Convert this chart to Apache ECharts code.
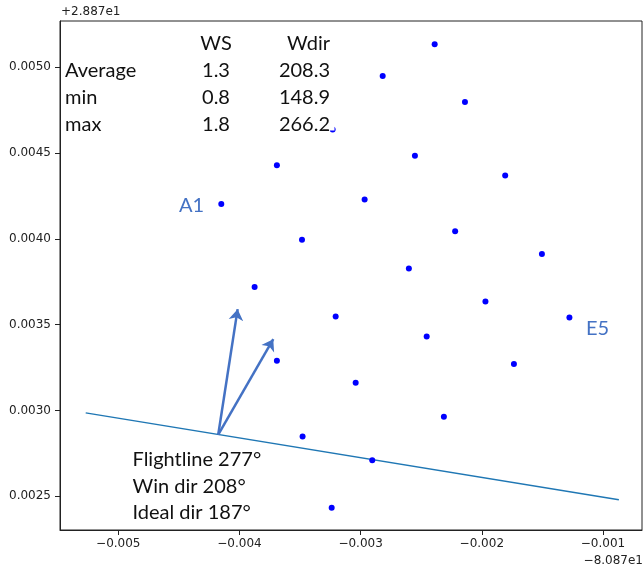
<!DOCTYPE html>
<html>
<head>
<meta charset="utf-8">
<script src="https://cdn.jsdelivr.net/npm/echarts@6/dist/echarts.min.js"></script>
<style>html,body{margin:0;padding:0;background:#fff}#c{width:643px;height:573px}</style>
</head>
<body>
<div id="c"></div>
<script>
// Offsets from +2.887e1 (lat) and -8.087e1 (lon)
const wellX = [-0.002389,-0.002818,-0.002139,-0.003691,-0.002552,-0.001807,-0.004150,-0.002967,-0.002220,-0.003484,
               -0.001504,-0.002602,-0.003875,-0.001970,-0.003206,-0.001277,-0.003691,-0.002455,-0.001735,-0.003041,
               -0.002313,-0.003479,-0.002904,-0.003239,-0.003231];
const wellY = [0.005133,0.004947,0.004797,0.004428,0.004484,0.004368,0.004203,0.004229,0.004043,0.003994,
               0.003911,0.003827,0.003719,0.003635,0.003547,0.003541,0.003289,0.003431,0.003271,0.003161,
               0.002964,0.002848,0.002710,0.002434,0.004636];
const flightX = [-0.005269, -0.000869];
const flightY = [0.002986, 0.002480];
const arrowBase = [-0.004175, 0.002860];
const arrowTipsX = [-0.004015, -0.003721];
const arrowTipsY = [0.003590, 0.003415];
const xTicks = [-0.005,-0.004,-0.003,-0.002,-0.001];
const xTickLabels = ['\u22120.005','\u22120.004','\u22120.003','\u22120.002','\u22120.001'];
const yTicks = [0.0025,0.0030,0.0035,0.0040,0.0045,0.0050];
const yTickLabels = ['0.0025','0.0030','0.0035','0.0040','0.0045','0.0050'];
const tableHeader = ['WS','Wdir'];
const tableRows = ['Average','min','max'];
const tableWS = ['1.3','0.8','1.8'];
const tableWdir = ['208.3','148.9','266.2'];
const noteLines = ['Flightline 277\u00b0','Win dir 208\u00b0','Ideal dir 187\u00b0'];

const chart = echarts.init(document.getElementById('c'));
const pts = wellX.map((x,i)=>[x, wellY[i]]);
const flight = flightX.map((x,i)=>[x, flightY[i]]);
const arrows = arrowTipsX.map((x,i)=>({coords:[arrowBase, [x, arrowTipsY[i]]]}));
const tickFont = {fontFamily:'DejaVu Sans', fontSize:12, color:'#222'};
const calibri = 'Lato';

const graphics = [
  {type:'rect', shape:{x:63, y:30, width:271.5, height:100.5}, style:{fill:'#fff'}, z:100},
  {type:'text', left:61, top:6, style:{text:'+2.887e1', font:'12px "DejaVu Sans"', fill:'#222'}, z:101},
  {type:'text', right:0, top:555, style:{text:'\u22128.087e1', font:'12px "DejaVu Sans"', fill:'#222'}, z:101},
  {type:'text', x:216, y:44, style:{text:tableHeader[0], font:'20px '+calibri, fill:'#111', align:'center', verticalAlign:'middle'}, z:101},
  {type:'text', x:330, y:44, style:{text:tableHeader[1], font:'20px '+calibri, fill:'#111', align:'right', verticalAlign:'middle'}, z:101},
  {type:'text', x:191.5, y:206, style:{text:'A1', font:'20px '+calibri, fill:'#4472C4', align:'center', verticalAlign:'middle'}, z:101},
  {type:'text', x:597.5, y:329, style:{text:'E5', font:'20px '+calibri, fill:'#4472C4', align:'center', verticalAlign:'middle'}, z:101}
];
tableRows.forEach((r,i)=>{
  const y = 70.5 + i*26.8;
  graphics.push({type:'text', x:65, y:y, style:{text:r, font:'20px '+calibri, fill:'#111', align:'left', verticalAlign:'middle'}, z:101});
  graphics.push({type:'text', x:216, y:y, style:{text:tableWS[i], font:'20px '+calibri, fill:'#111', align:'center', verticalAlign:'middle'}, z:101});
  graphics.push({type:'text', x:330, y:y, style:{text:tableWdir[i], font:'20px '+calibri, fill:'#111', align:'right', verticalAlign:'middle'}, z:101});
});
noteLines.forEach((t,i)=>{
  graphics.push({type:'text', x:132.5, y:460 + i*26.5, style:{text:t, font:'20px '+calibri, fill:'#111', align:'left', verticalAlign:'middle'}, z:101});
});

chart.setOption({
  animation:false,
  backgroundColor:'#fff',
  grid:{left:60, top:21, width:582, height:509, show:true, borderColor:'#222', borderWidth:1, backgroundColor:'transparent'},
  xAxis:{type:'value', min:-0.005481, max:-0.000678,
    axisLine:{show:true, onZero:false, lineStyle:{color:'#222'}},
    axisTick:{show:true, length:5, customValues:xTicks, lineStyle:{color:'#222'}},
    axisLabel:Object.assign({margin:8, customValues:xTicks,
      formatter:(v)=>{const k=xTicks.findIndex(t=>Math.abs(t-v)<1e-9);return k>=0?xTickLabels[k]:'';}}, tickFont),
    splitLine:{show:false}},
  yAxis:{type:'value', min:0.002304, max:0.005268,
    axisLine:{show:true, onZero:false, lineStyle:{color:'#222'}},
    axisTick:{show:true, length:5, customValues:yTicks, lineStyle:{color:'#222'}},
    axisLabel:Object.assign({margin:9, customValues:yTicks,
      formatter:(v)=>{const k=yTicks.findIndex(t=>Math.abs(t-v)<1e-9);return k>=0?yTickLabels[k]:'';}}, tickFont),
    splitLine:{show:false}},
  series:[
    {type:'line', data:flight, showSymbol:false, symbol:'none', lineStyle:{color:'#1f77b4', width:1.5}, z:3},
    {type:'scatter', data:pts, symbolSize:6, itemStyle:{color:'#0000ff', opacity:1}, z:4},
    {type:'lines', coordinateSystem:'cartesian2d', data:arrows, symbol:['none','arrow'], symbolSize:[0,11],
      lineStyle:{color:'#4472C4', width:2.5, opacity:1}, z:5}
  ],
  graphic:graphics
});
</script>
</body>
</html>
